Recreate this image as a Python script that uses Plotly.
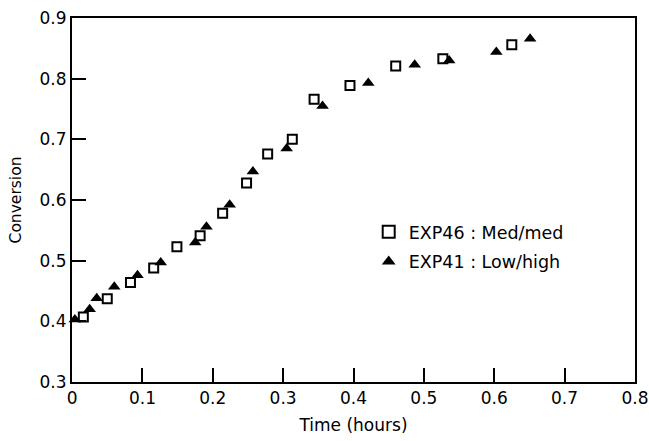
import plotly.graph_objects as go

# EXP46 : Med/med (open squares)
exp46_time = [0.016, 0.050, 0.083, 0.116, 0.149, 0.182, 0.214, 0.248, 0.278, 0.313, 0.344, 0.395, 0.460, 0.527, 0.625]
exp46_conv = [0.407, 0.437, 0.464, 0.488, 0.523, 0.541, 0.578, 0.628, 0.676, 0.700, 0.766, 0.789, 0.821, 0.833, 0.856]

# EXP41 : Low/high (filled triangles)
exp41_time = [0.004, 0.025, 0.035, 0.060, 0.093, 0.126, 0.175, 0.191, 0.224, 0.257, 0.305, 0.356, 0.421, 0.487, 0.536, 0.603, 0.651]
exp41_conv = [0.403, 0.420, 0.438, 0.457, 0.476, 0.497, 0.530, 0.556, 0.592, 0.647, 0.685, 0.755, 0.793, 0.823, 0.830, 0.844, 0.866]

x_ticks = [0, 0.1, 0.2, 0.3, 0.4, 0.5, 0.6, 0.7, 0.8]
x_labels = ["0", "0.1", "0.2", "0.3", "0.4", "0.5", "0.6", "0.7", "0.8"]
y_ticks = [0.3, 0.4, 0.5, 0.6, 0.7, 0.8, 0.9]
y_labels = ["0.3", "0.4", "0.5", "0.6", "0.7", "0.8", "0.9"]

FONT = "DejaVu Sans"

fig = go.Figure()
fig.add_trace(go.Scatter(
    x=exp46_time, y=exp46_conv, mode="markers", name="EXP46 : Med/med",
    legendgroup="a",
    marker=dict(symbol="square-open", size=9, color="black", line=dict(width=2, color="black")),
    cliponaxis=False,
))
fig.add_trace(go.Scatter(
    x=exp41_time, y=exp41_conv, mode="markers", name="EXP41 : Low/high",
    legendgroup="b",
    marker=dict(symbol="triangle-up", size=11, color="black"),
    cliponaxis=False,
))

fig.update_layout(
    width=649, height=441,
    margin=dict(l=72, r=14, t=18, b=59, autoexpand=False),
    paper_bgcolor="white", plot_bgcolor="white",
    font=dict(family=FONT, color="black", size=16),
    showlegend=True,
    legend=dict(
        x=0.527, y=0.462, xanchor="left", yanchor="top",
        bgcolor="rgba(0,0,0,0)", font=dict(size=17.5, family=FONT),
        tracegroupgap=4, traceorder="grouped", itemsizing="constant",
    ),
    xaxis=dict(
        range=[-0.0001, 0.8001], tickvals=x_ticks, ticktext=x_labels,
        ticks="inside", ticklen=14, tickwidth=1.5, tickcolor="black",
        showline=True, linecolor="black", linewidth=2, mirror=True,
        showgrid=False, zeroline=False, ticklabeloverflow="allow", automargin=False,
        tickfont=dict(size=17, family=FONT),
        title=dict(text="Time (hours)", font=dict(size=17, family=FONT), standoff=12),
    ),
    yaxis=dict(
        range=[0.2999, 0.9001], tickvals=y_ticks, ticktext=y_labels,
        ticks="inside", ticklen=14, tickwidth=1.5, tickcolor="black",
        showline=True, linecolor="black", linewidth=2, mirror=True,
        showgrid=False, zeroline=False, ticklabeloverflow="allow", automargin=False,
        tickfont=dict(size=17, family=FONT),
        title=dict(text="Conversion", font=dict(size=15.5, family=FONT), standoff=14),
    ),
)

fig.write_html("out.html")
